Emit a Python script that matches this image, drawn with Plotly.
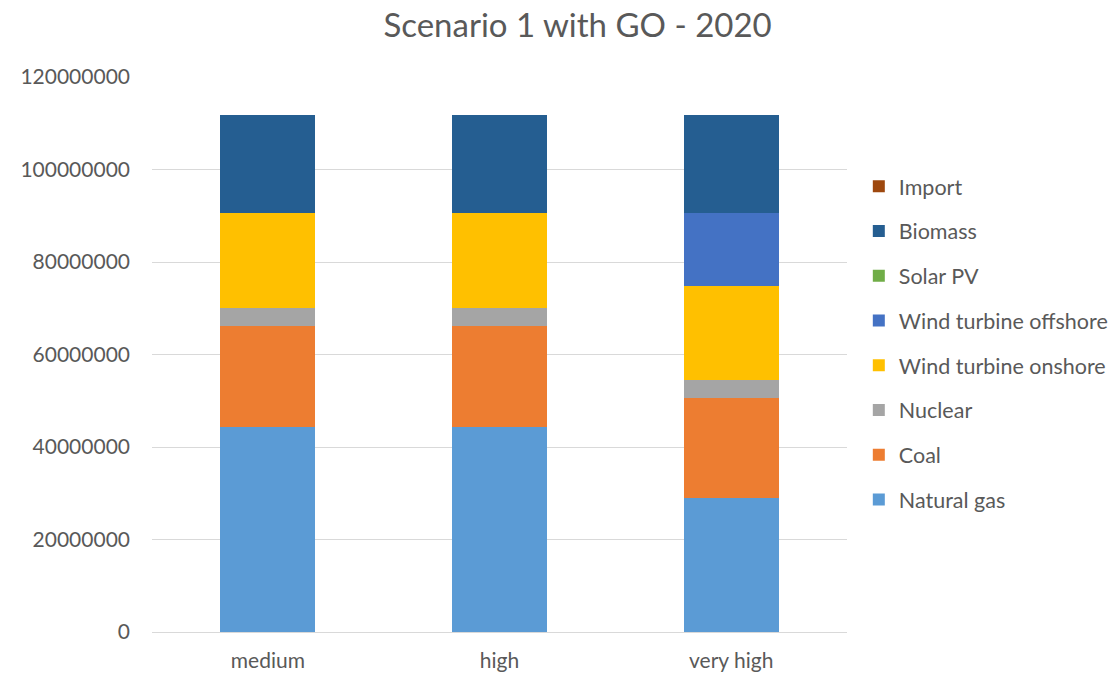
import plotly.graph_objects as go

# Electricity generation by source for each GO price level
categories = ["medium", "high", "very high"]

natural_gas = [44.4e6, 44.4e6, 28.9e6]
coal = [21.8e6, 21.8e6, 21.7e6]
nuclear = [3.85e6, 3.85e6, 3.8e6]
wind_onshore = [20.45e6, 20.45e6, 20.5e6]
wind_offshore = [0, 0, 15.6e6]
solar_pv = [0, 0, 0]
biomass = [21.3e6, 21.3e6, 21.3e6]
imports = [0, 0, 0]

y_ticks = [0, 20e6, 40e6, 60e6, 80e6, 100e6, 120e6]
y_tick_labels = ["0", "20000000", "40000000", "60000000", "80000000", "100000000", "120000000"]

series = [
    ("Natural gas", natural_gas, "#5b9bd5"),
    ("Coal", coal, "#ed7d31"),
    ("Nuclear", nuclear, "#a5a5a5"),
    ("Wind turbine onshore", wind_onshore, "#ffc000"),
    ("Wind turbine offshore", wind_offshore, "#4472c4"),
    ("Solar PV", solar_pv, "#70ad47"),
    ("Biomass", biomass, "#255e91"),
    ("Import", imports, "#9e480e"),
]

fig = go.Figure()
for i, (name, vals, color) in enumerate(series):
    fig.add_trace(go.Bar(
        x=categories, y=vals, name=name, legendgroup=name,
        legendrank=1000 - i,
        marker=dict(color=color, line=dict(width=0)),
        width=0.41,
    ))

font_family = "Lato, 'Open Sans', sans-serif"

fig.update_layout(
    barmode="stack",
    width=1115, height=697,
    paper_bgcolor="white", plot_bgcolor="white",
    margin=dict(l=152, r=268, t=77, b=65, autoexpand=False),
    font=dict(family=font_family, color="#595959", size=21),
    title=dict(
        text="Scenario 1 with GO - 2020",
        x=0.518, xanchor="center", y=0.963, yanchor="middle",
        font=dict(size=33, color="#595959", family=font_family),
    ),
    xaxis=dict(
        showgrid=False, showline=False, zeroline=False,
        ticks="", tickfont=dict(size=21, color="#595959"),
        ticklabelstandoff=14,
        range=[-0.5, 2.5],
    ),
    yaxis=dict(
        range=[0, 120e6], tickvals=y_ticks, ticktext=y_tick_labels,
        showgrid=True, gridcolor="#d9d9d9", gridwidth=1,
        zeroline=True, zerolinecolor="#d9d9d9", zerolinewidth=1,
        showline=False, ticks="", ticklabelstandoff=21,
        tickfont=dict(size=21, color="#595959"),
    ),
    legend=dict(
        traceorder="grouped", tracegroupgap=13.8,
        x=1.017, xanchor="left", y=0.84, yanchor="top",
        font=dict(size=21.5, color="#595959"),
        bgcolor="rgba(0,0,0,0)",
    ),
)

fig.write_html("out.html")
